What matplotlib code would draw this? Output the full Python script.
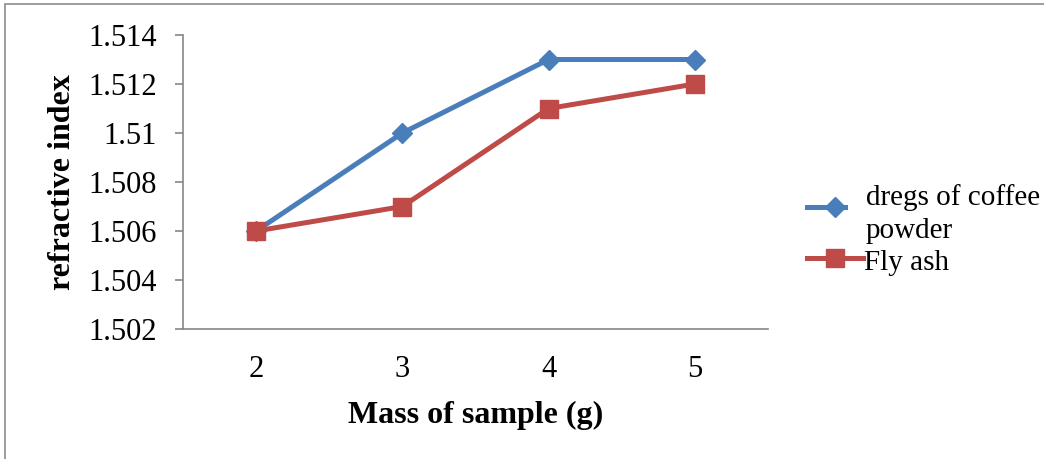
import matplotlib
matplotlib.use("Agg")
import matplotlib.pyplot as plt
from matplotlib.lines import Line2D
from matplotlib.patches import Rectangle

# data
mass = [2, 3, 4, 5]
coffee = [1.506, 1.510, 1.513, 1.513]
fly_ash = [1.506, 1.507, 1.511, 1.512]
yticks = [1.502, 1.504, 1.506, 1.508, 1.510, 1.512, 1.514]
ytick_labels = ["1.502", "1.504", "1.506", "1.508", "1.51", "1.512", "1.514"]
series_names = ["dregs of coffee\npowder", "Fly ash"]

plt.rcParams["font.family"] = ["Liberation Serif", "DejaVu Serif"]

W, H = 1044, 459
fig = plt.figure(figsize=(W / 100, H / 100), dpi=100)


def px(x, y):
    """pixel coords (from top-left) -> figure fraction"""
    return x / W, (H - y) / H


# outer chart frame
fig.patches.append(Rectangle((5 / W, -0.05), 1.1, 1.05 - 4 / H,
                             transform=fig.transFigure, fill=False,
                             edgecolor="#8c8c8c", linewidth=1.2))

ax = fig.add_axes([183 / W, 130 / H, 585 / W, 294 / H])
blue, red = "#4a7ebb", "#be4b48"
ax.plot(mass, coffee, color=blue, lw=3.6, marker="D", ms=10.5, zorder=3)
ax.plot(mass, fly_ash, color=red, lw=3.6, marker="s", ms=13.5, zorder=3)

ax.set_xlim(1.5, 5.5)
ax.set_ylim(1.502, 1.514)
ax.set_xticks(mass)
ax.set_yticks(yticks)
ax.set_yticklabels(ytick_labels)
ax.tick_params(axis="x", length=0, pad=19, labelsize=22)
ax.tick_params(axis="y", length=6, width=1.2, color="#868686", pad=13,
               labelsize=22)
for s in ("top", "right"):
    ax.spines[s].set_visible(False)
for s in ("left", "bottom"):
    ax.spines[s].set_color("#868686")
    ax.spines[s].set_linewidth(1.2)

ax.set_xlabel("Mass of sample (g)", fontsize=23, fontweight="bold",
              labelpad=12)
ax.set_ylabel("refractive index", fontsize=23, fontweight="bold",
              labelpad=8)

# legend, laid out by hand like the original
x0, y0 = px(807, 207)
x1, _ = px(845, 207)
xm, _ = px(835, 207)
fig.add_artist(Line2D([x0, x1], [y0, y0], color=blue, lw=3.6,
                      transform=fig.transFigure))
fig.add_artist(Line2D([xm], [y0], color=blue, marker="D", ms=10.5,
                      transform=fig.transFigure))
x0, y1 = px(807, 258)
x1, _ = px(863, 258)
fig.add_artist(Line2D([x0, x1], [y1, y1], color=red, lw=3.6,
                      transform=fig.transFigure))
fig.add_artist(Line2D([xm], [y1], color=red, marker="s", ms=13.5,
                      transform=fig.transFigure))
name1, name2 = series_names[0].split("\n")
fig.text(*px(866, 205), name1, fontsize=21, va="baseline")
fig.text(*px(866, 238), name2, fontsize=21, va="baseline")
fig.text(*px(864, 270), series_names[1], fontsize=21, va="baseline")

fig.savefig("out.png", dpi=100)
